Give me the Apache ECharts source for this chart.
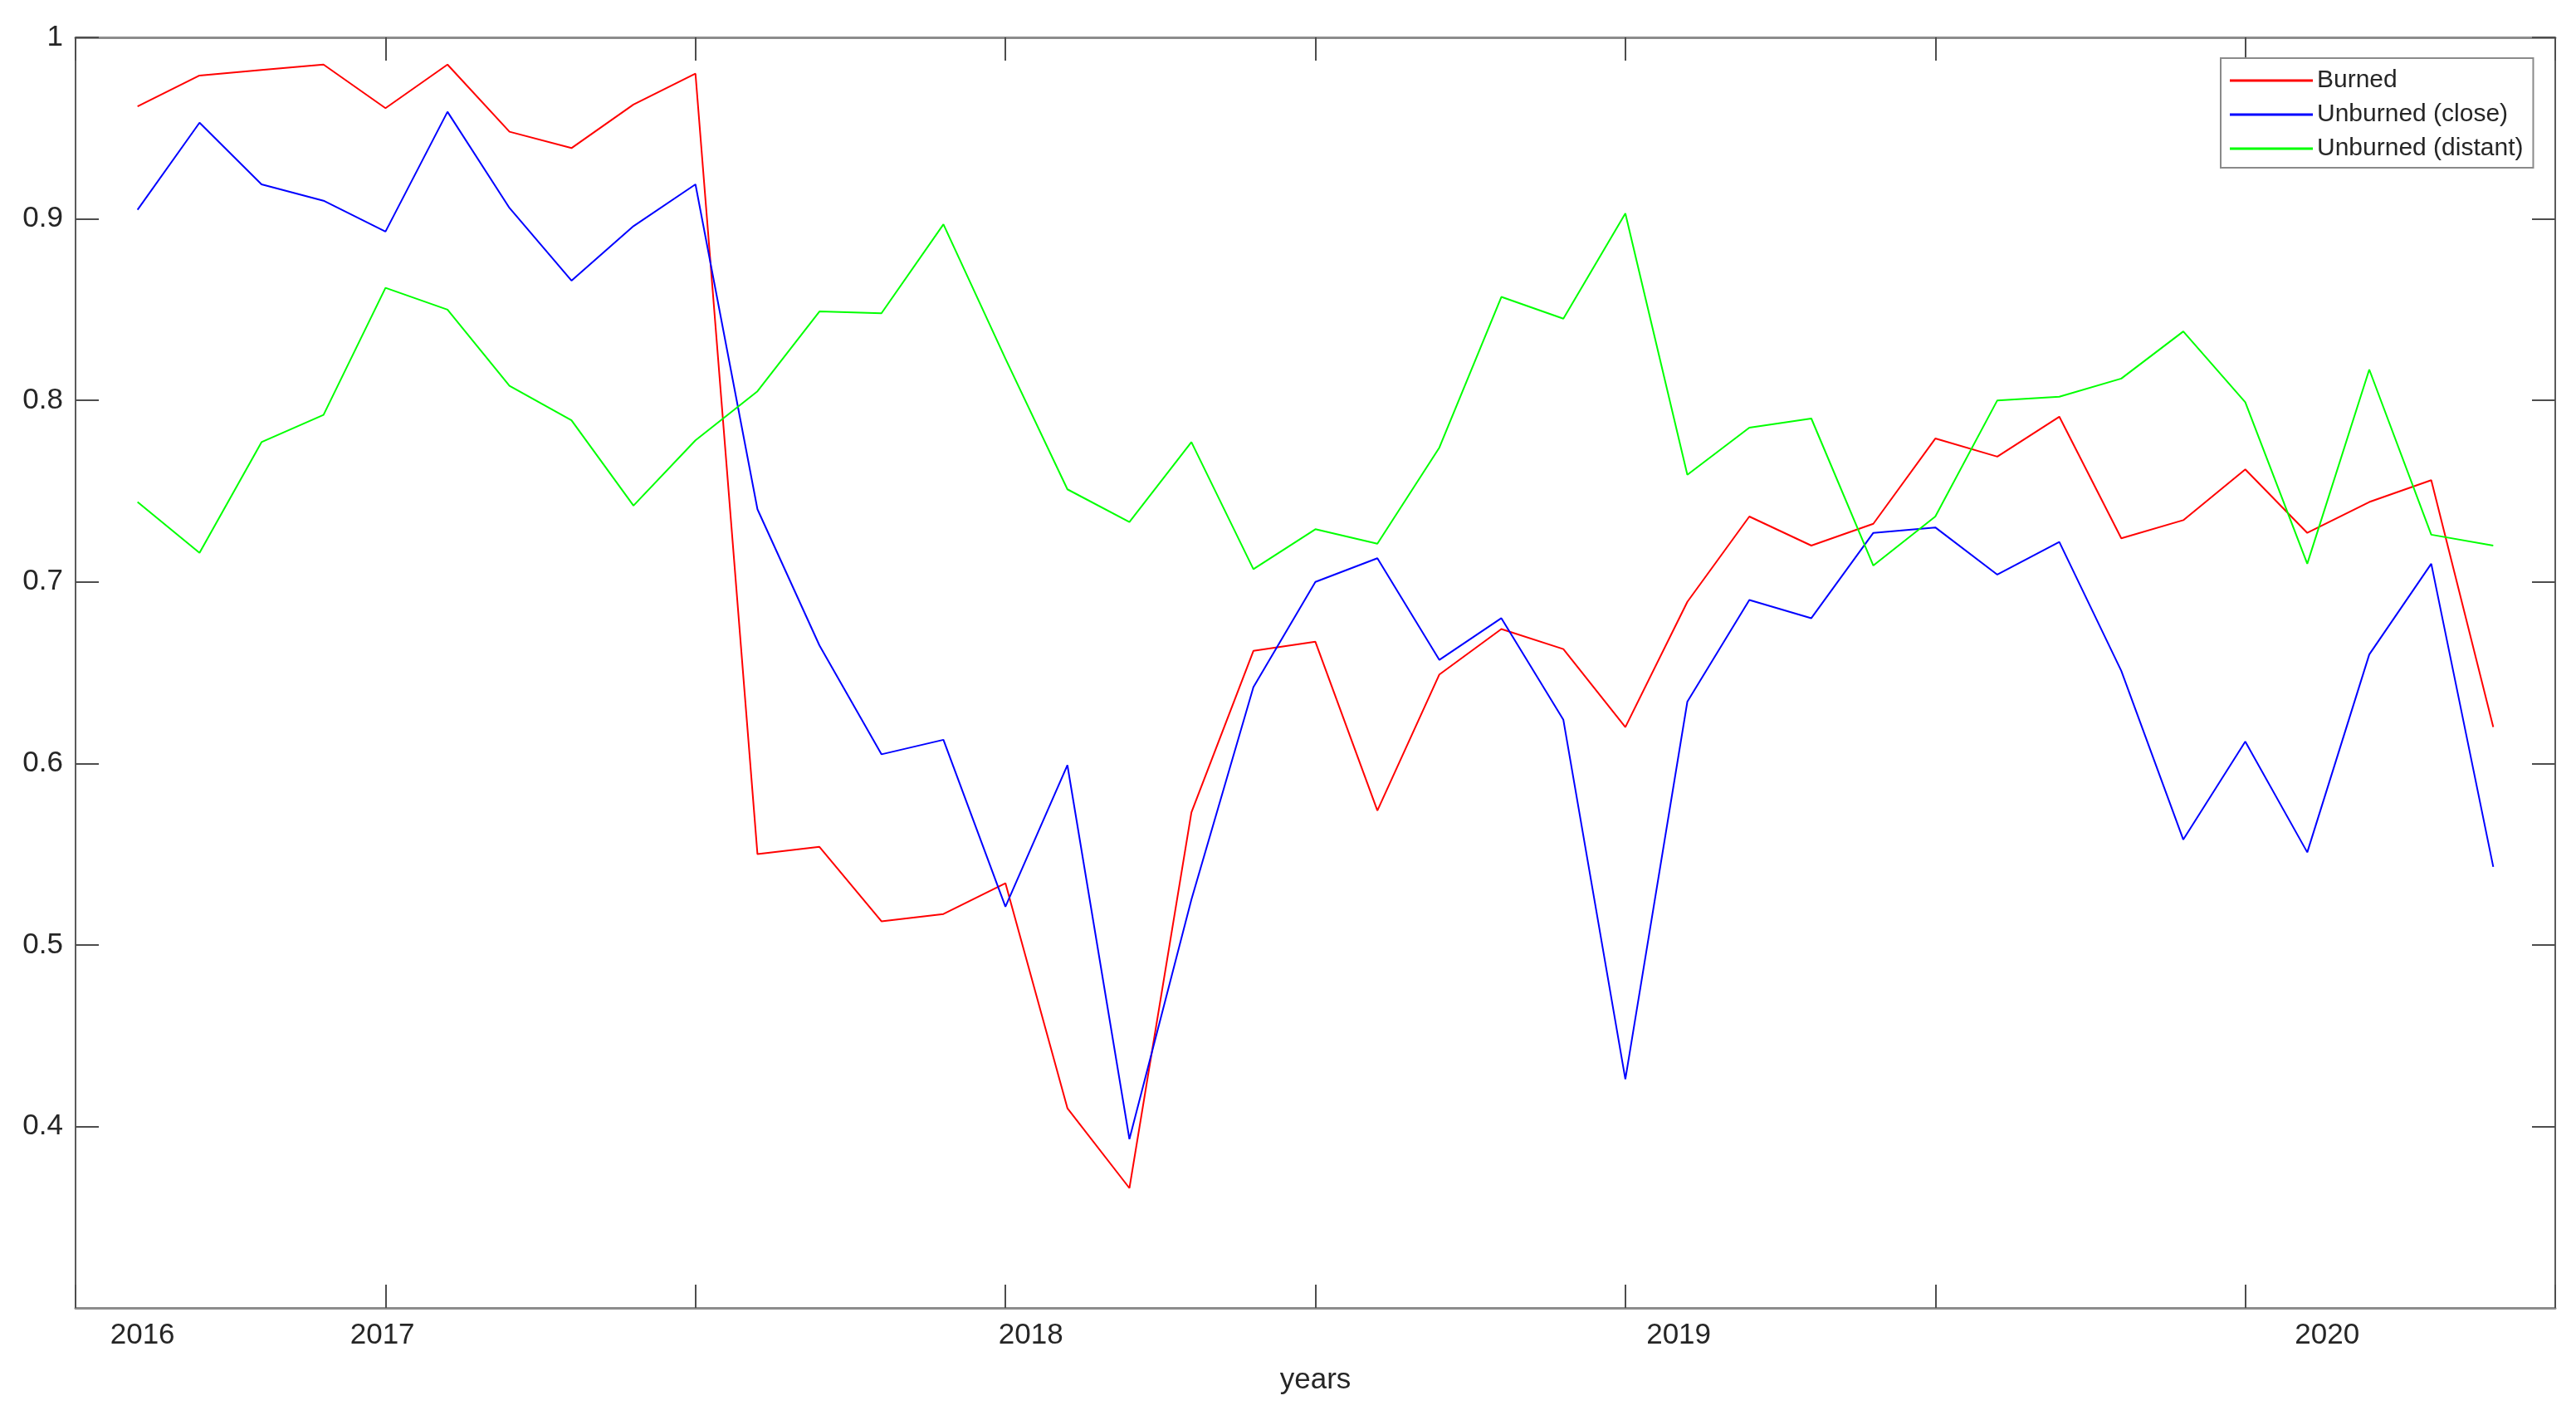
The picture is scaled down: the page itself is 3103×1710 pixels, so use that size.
<!DOCTYPE html>
<html>
<head>
<meta charset="utf-8">
<title>Burned vs unburned</title>
<script src="https://cdn.jsdelivr.net/npm/echarts@6/dist/echarts.min.js"></script>
<style>
  html, body { margin: 0; padding: 0; background: #fff; }
  #chart { width: 3103px; height: 1710px; }
</style>
</head>
<body>
<div id="chart"></div>
<script>
// values, one point per sample
const burned = [
  0.962, 0.979, 0.982, 0.985, 0.961, 0.985, 0.948, 0.939, 0.963, 0.980,
  0.550, 0.554, 0.513, 0.517, 0.534, 0.410, 0.366, 0.573, 0.662, 0.667,
  0.574, 0.649, 0.674, 0.663, 0.620, 0.689, 0.736, 0.720, 0.732, 0.779,
  0.769, 0.791, 0.724, 0.734, 0.762, 0.727, 0.744, 0.756, 0.620
]
const unburnedClose = [
  0.905, 0.953, 0.919, 0.910, 0.893, 0.959, 0.906, 0.866, 0.896, 0.919,
  0.740, 0.665, 0.605, 0.613, 0.521, 0.599, 0.393, 0.525, 0.642, 0.700,
  0.713, 0.657, 0.680, 0.624, 0.426, 0.634, 0.690, 0.680, 0.727, 0.730,
  0.704, 0.722, 0.651, 0.558, 0.612, 0.551, 0.660, 0.710, 0.543
]
const unburnedDistant = [
  0.744, 0.716, 0.777, 0.792, 0.862, 0.850, 0.808, 0.789, 0.742, 0.778,
  0.805, 0.849, 0.848, 0.897, 0.823, 0.751, 0.733, 0.777, 0.707, 0.729,
  0.721, 0.774, 0.857, 0.845, 0.903, 0.759, 0.785, 0.790, 0.709, 0.736,
  0.800, 0.802, 0.812, 0.838, 0.799, 0.710, 0.817, 0.726, 0.720
]

// x ticks (sample units) and the year labels, which sit off the ticks
const xTicks = [0, 5, 10, 15, 20, 25, 30, 35, 40]
const yearLabels = ['2016', '2017', '2018', '2019', '2020']
const yearPos = [1.08, 4.95, 15.41, 25.86, 36.32]
const yTicks = [0.4, 0.5, 0.6, 0.7, 0.8, 0.9, 1]

const toPoints = arr => arr.map((v, i) => [i + 1, v])

const FONT = '"Liberation Sans", Arial, Helvetica, sans-serif'
const TXT = '#262626'
const H_LINE = { show: true, onZero: false, lineStyle: { color: '#8c8c8c', width: 3 } }
const V_LINE = { show: true, onZero: false, lineStyle: { color: '#5a5a5a', width: 2 } }
const TICK = { show: true, inside: true, length: 28, lineStyle: { color: '#4d4d4d', width: 2 } }

const chart = echarts.init(document.getElementById('chart'))

const option = {
  backgroundColor: '#ffffff',
  animation: false,
  grid: { left: 91, right: 25, top: 45, bottom: 135 },
  legend: {
    orient: 'vertical',
    left: 2675,
    top: 70,
    padding: [9, 12, 5, 11],
    icon: 'rect',
    itemWidth: 100,
    itemHeight: 3,
    itemGap: 5,
    backgroundColor: '#ffffff',
    borderColor: '#8a8a8a',
    borderWidth: 2,
    textStyle: { fontFamily: FONT, fontSize: 30, color: TXT, lineHeight: 36 },
    data: ['Burned', 'Unburned (close)', 'Unburned (distant)']
  },
  xAxis: [
    {
      type: 'value',
      position: 'bottom',
      min: 0,
      max: 40,
      interval: 5,
      name: 'years',
      nameLocation: 'middle',
      nameGap: 70,
      nameTextStyle: { fontFamily: FONT, fontSize: 35, color: TXT },
      axisLine: H_LINE,
      axisTick: Object.assign({ customValues: xTicks }, TICK),
      axisLabel: {
        customValues: yearPos,
        margin: 16,
        fontFamily: FONT,
        fontSize: 35,
        color: TXT,
        formatter: v => {
          let best = 0
          yearPos.forEach((p, i) => { if (Math.abs(p - v) < Math.abs(yearPos[best] - v)) best = i })
          return yearLabels[best]
        }
      },
      splitLine: { show: false }
    },
    {
      type: 'value',
      position: 'top',
      min: 0,
      max: 40,
      interval: 5,
      axisLine: H_LINE,
      axisTick: Object.assign({ customValues: xTicks }, TICK),
      axisLabel: { show: false },
      splitLine: { show: false }
    }
  ],
  yAxis: [
    {
      type: 'value',
      position: 'left',
      min: 0.3,
      max: 1,
      axisLine: V_LINE,
      axisTick: Object.assign({ customValues: yTicks }, TICK),
      axisLabel: {
        customValues: yTicks,
        margin: 15,
        fontFamily: FONT,
        fontSize: 35,
        color: TXT
      },
      splitLine: { show: false }
    },
    {
      type: 'value',
      position: 'right',
      min: 0.3,
      max: 1,
      axisLine: V_LINE,
      axisTick: Object.assign({ customValues: yTicks }, TICK),
      axisLabel: { show: false },
      splitLine: { show: false }
    }
  ],
  series: [
    {
      name: 'Burned',
      type: 'line',
      data: toPoints(burned),
      symbol: 'none',
      color: '#ff0000',
      lineStyle: { color: '#ff0000', width: 2 }
    },
    {
      name: 'Unburned (close)',
      type: 'line',
      data: toPoints(unburnedClose),
      symbol: 'none',
      color: '#0000ff',
      lineStyle: { color: '#0000ff', width: 2 }
    },
    {
      name: 'Unburned (distant)',
      type: 'line',
      data: toPoints(unburnedDistant),
      symbol: 'none',
      color: '#00ff00',
      lineStyle: { color: '#00ff00', width: 2 }
    }
  ]
}

chart.setOption(option)
</script>
</body>
</html>
